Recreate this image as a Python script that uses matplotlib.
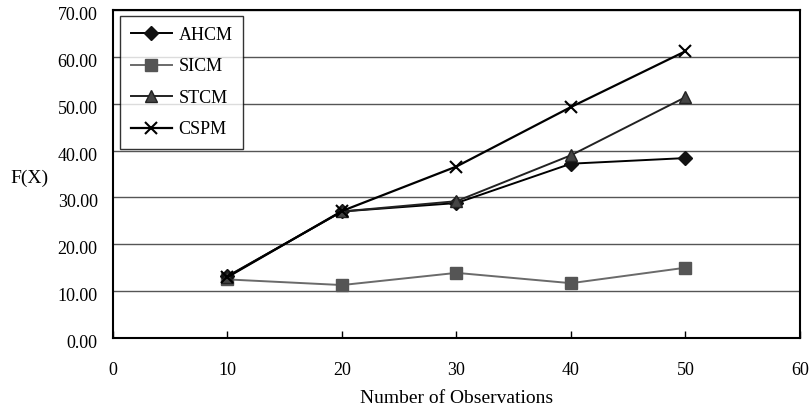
import matplotlib.pyplot as plt
import matplotlib.transforms as mtransforms

plt.rcParams['font.family'] = ['Liberation Serif', 'DejaVu Serif']

#%% Data
observations = [10, 20, 30, 40, 50]
ahcm = [13.2, 27.0, 28.8, 37.2, 38.4]
sicm = [12.5, 11.3, 13.9, 11.7, 15.0]
stcm = [13.1, 27.0, 29.2, 39.0, 51.4]
cspm = [13.0, 27.1, 36.6, 49.3, 61.2]

x_ticks = [0, 10, 20, 30, 40, 50, 60]
y_ticks = [0, 10, 20, 30, 40, 50, 60, 70]

#%% Build the plot
fig = plt.figure(figsize=(8.12, 4.08), dpi=100)
ax = fig.add_axes([113/812, 1 - 338/408, 687/812, 328/408])

ax.plot(observations, ahcm, color='black', lw=1.4, marker='D',
        ms=7, mfc='#111111', mec='#111111', label='AHCM', zorder=4)
ax.plot(observations, sicm, color='#6a6a6a', lw=1.4, marker='s',
        ms=9, mfc='#555555', mec='#555555', label='SICM', zorder=3)
ax.plot(observations, stcm, color='#222222', lw=1.4, marker='^',
        ms=9, mfc='#444444', mec='#222222', label='STCM', zorder=5)
ax.plot(observations, cspm, color='black', lw=1.6, marker='x',
        ms=9, mew=1.5, label='CSPM', zorder=6)

ax.set_xlim(0, 60)
ax.set_ylim(0, 70)
ax.set_xticks(x_ticks)
ax.set_yticks(y_ticks)
ax.set_yticklabels(['%.2f' % v for v in y_ticks])

ax.grid(True, axis='y', color='#555555', lw=1.0)
ax.set_axisbelow(True)

for spine in ax.spines.values():
    spine.set_linewidth(1.5)
    spine.set_color('black')

ax.tick_params(axis='x', direction='in', length=5, width=1, pad=17,
               labelsize=13)
ax.tick_params(axis='y', length=0, pad=11, labelsize=13)

# Nudge value labels a bit below their grid lines
offset = mtransforms.ScaledTranslation(0, -2.5/72, fig.dpi_scale_trans)
for lbl in ax.get_yticklabels():
    lbl.set_transform(lbl.get_transform() + offset)

ax.set_xlabel('Number of Observations', fontsize=14, labelpad=8)
ax.set_ylabel('F(X)', rotation=0, fontsize=14, va='center', ha='center')
ax.yaxis.set_label_coords(-0.121, 0.488)

leg = ax.legend(loc='upper left', bbox_to_anchor=(0.01, 0.982),
                fontsize=13, frameon=True, fancybox=False,
                handlelength=2.3, handletextpad=0.35, borderpad=0.6,
                labelspacing=0.8, borderaxespad=0)
leg.get_frame().set_edgecolor('black')
leg.get_frame().set_linewidth(1.0)

fig.savefig('out.png', dpi=100)
